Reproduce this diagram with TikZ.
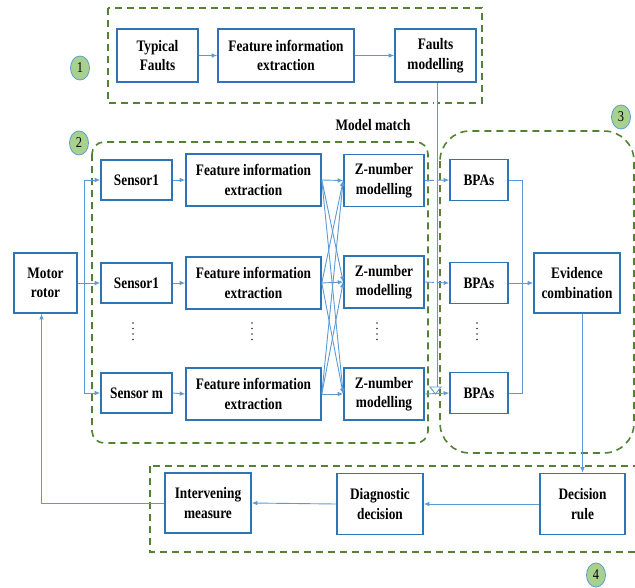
\documentclass[tikz,border=0pt]{standalone}
\usepackage{fontspec}
\setmainfont{Liberation Serif}[FakeStretch=0.83]
\usetikzlibrary{arrows.meta,shapes.geometric}
\definecolor{boxblue}{HTML}{2E75B6}
\definecolor{lineblue}{HTML}{5B9BD5}
\definecolor{dgreen}{HTML}{548235}
\definecolor{cgreen}{HTML}{A9D18E}
\begin{document}
\begin{tikzpicture}[x=1pt,y=-1pt,
  box/.style={draw=boxblue, line width=1.6pt, fill=white, align=center, inner sep=0pt,
    font=\bfseries\fontsize{16}{19.5}\selectfont},
  arr/.style={draw=lineblue, line width=0.9pt, -{Latex[length=5.5pt,width=4.5pt]}},
  ln/.style={draw=lineblue, line width=0.9pt},
  grp/.style={draw=dgreen, line width=1.6pt, dash pattern=on 7pt off 5pt},
  num/.style={ellipse, draw=lineblue, fill=cgreen, line width=0.8pt, minimum width=19pt,
    minimum height=24pt, inner sep=0pt, font=\fontsize{15}{15}\selectfont},
  dotsline/.style={draw=black!80, line width=1.6pt, line cap=round, dash pattern=on 0pt off 5.5pt}]
\clip (0,0) rectangle (635,587);
\fill[white] (0,0) rectangle (635,587);

% groups
\draw[grp] (108,8) rectangle (482,103);
\draw[grp, rounded corners=12pt] (92,142) rectangle (428,443);
\draw[grp, rounded corners=30pt] (440,131) rectangle (634,453);
\draw[grp] (150,466) rectangle (645,552);

% circled numbers
\node[num] (c1) at (80,68) {1};
\node[num] (c2) at (79,143) {2};
\node[num] (c3) at (621,117) {3};
\node[num] (c4) at (596,575) {4};

\node[font=\bfseries\fontsize{16}{19}\selectfont] (mm) at (373,125) {Model match};

% top row
\node[box, minimum width=81pt, minimum height=53pt] (tf) at (157.5,55.5) {Typical\\Faults};
\node[box, minimum width=136pt, minimum height=53pt] (f0) at (286,55.5) {Feature information\\extraction};
\node[box, minimum width=81pt, minimum height=53pt] (fm) at (435.5,55.5) {Faults\\modelling};

% motor
\node[box, minimum width=63pt, minimum height=60pt] (mr) at (45.5,283) {Motor\\rotor};

% sensor rows
\node[box, minimum width=71pt, minimum height=40pt] (s1) at (136.5,180) {Sensor1};
\node[box, minimum width=71pt, minimum height=40pt] (s2) at (136.5,283) {Sensor1};
\node[box, minimum width=71pt, minimum height=40pt] (s3) at (136.5,393) {Sensor m};

\node[box, minimum width=135pt, minimum height=52pt] (f1) at (253.5,180) {Feature information\\extraction};
\node[box, minimum width=135pt, minimum height=52pt] (f2) at (253.5,283) {Feature information\\extraction};
\node[box, minimum width=135pt, minimum height=52pt] (f3) at (253.5,394) {Feature information\\extraction};

\node[box, minimum width=80pt, minimum height=52pt] (z1) at (384,180.5) {Z-number\\modelling};
\node[box, minimum width=80pt, minimum height=52pt] (z2) at (384,282) {Z-number\\modelling};
\node[box, minimum width=80pt, minimum height=52pt] (z3) at (384,394) {Z-number\\modelling};

\node[box, minimum width=58pt, minimum height=41pt] (b1) at (479,180) {BPAs};
\node[box, minimum width=58pt, minimum height=41pt] (b2) at (479,283) {BPAs};
\node[box, minimum width=58pt, minimum height=41pt] (b3) at (479,393) {BPAs};

\node[box, minimum width=86pt, minimum height=60pt] (ev) at (577,283) {Evidence\\combination};

% bottom row
\node[box, minimum width=86pt, minimum height=60pt] (ir) at (208,503) {Intervening\\measure};
\node[box, minimum width=86pt, minimum height=61pt] (dd) at (380,504) {Diagnostic\\decision};
\node[box, minimum width=85pt, minimum height=61pt] (dr) at (582.5,504) {Decision\\rule};

% vertical dots
\draw[dotsline] (133,323) -- (133,344);
\draw[dotsline] (252,323) -- (252,344);
\draw[dotsline] (377,323) -- (377,344);
\draw[dotsline] (477,323) -- (477,344);

% connectors
\draw[arr] (tf.east) -- (f0.west);
\draw[arr] (f0.east) -- (fm.west);

\draw[arr] (mr.east) -- (s2.west);
\coordinate (jm) at (84,283);
\draw[arr] (jm) |- (s1.west);
\draw[arr] (jm) |- (s3.west);

\draw[arr] (s1.east) -- (f1.west);
\draw[arr] (s2.east) -- (f2.west);
\draw[arr] (s3.east) -- (f3.west);

\foreach \i in {1,2,3}{
  \foreach \j in {1,2,3}{
    \draw[arr] (f\i.east) -- (z\j.west);
  }
}

\draw[arr] (z1.east) -- (b1.west);
\draw[arr] (z2.east) -- (b2.west);
\draw[arr] (z3.east) -- (b3.west);

\coordinate (jx) at (522,283);
\draw[ln] (b1.east) -| (jx);
\draw[ln] (b3.east) -| (jx);
\draw[arr] (b2.east) -- (ev.west);

\draw[arr] (ev.south -| dr.north) -- (dr.north);
\draw[arr] (dr.west) -- (dd.east);
\draw[arr] (dd.west) -- (ir.east);
\draw[arr] (ir.west) -| ([xshift=-4pt]mr.south);

% hollow double arrow from faults modelling
\coordinate (dt) at (fm.south |- z3.east);
\draw[draw=lineblue, double=white, double distance=2.2pt, line width=0.9pt] (fm.south) -- ([yshift=7pt]dt);
\draw[draw=lineblue, fill=white, line width=0.9pt] ([xshift=-5.5pt,yshift=7pt]dt) -- ([xshift=5.5pt,yshift=7pt]dt) -- (dt) -- cycle;
\end{tikzpicture}
\end{document}
